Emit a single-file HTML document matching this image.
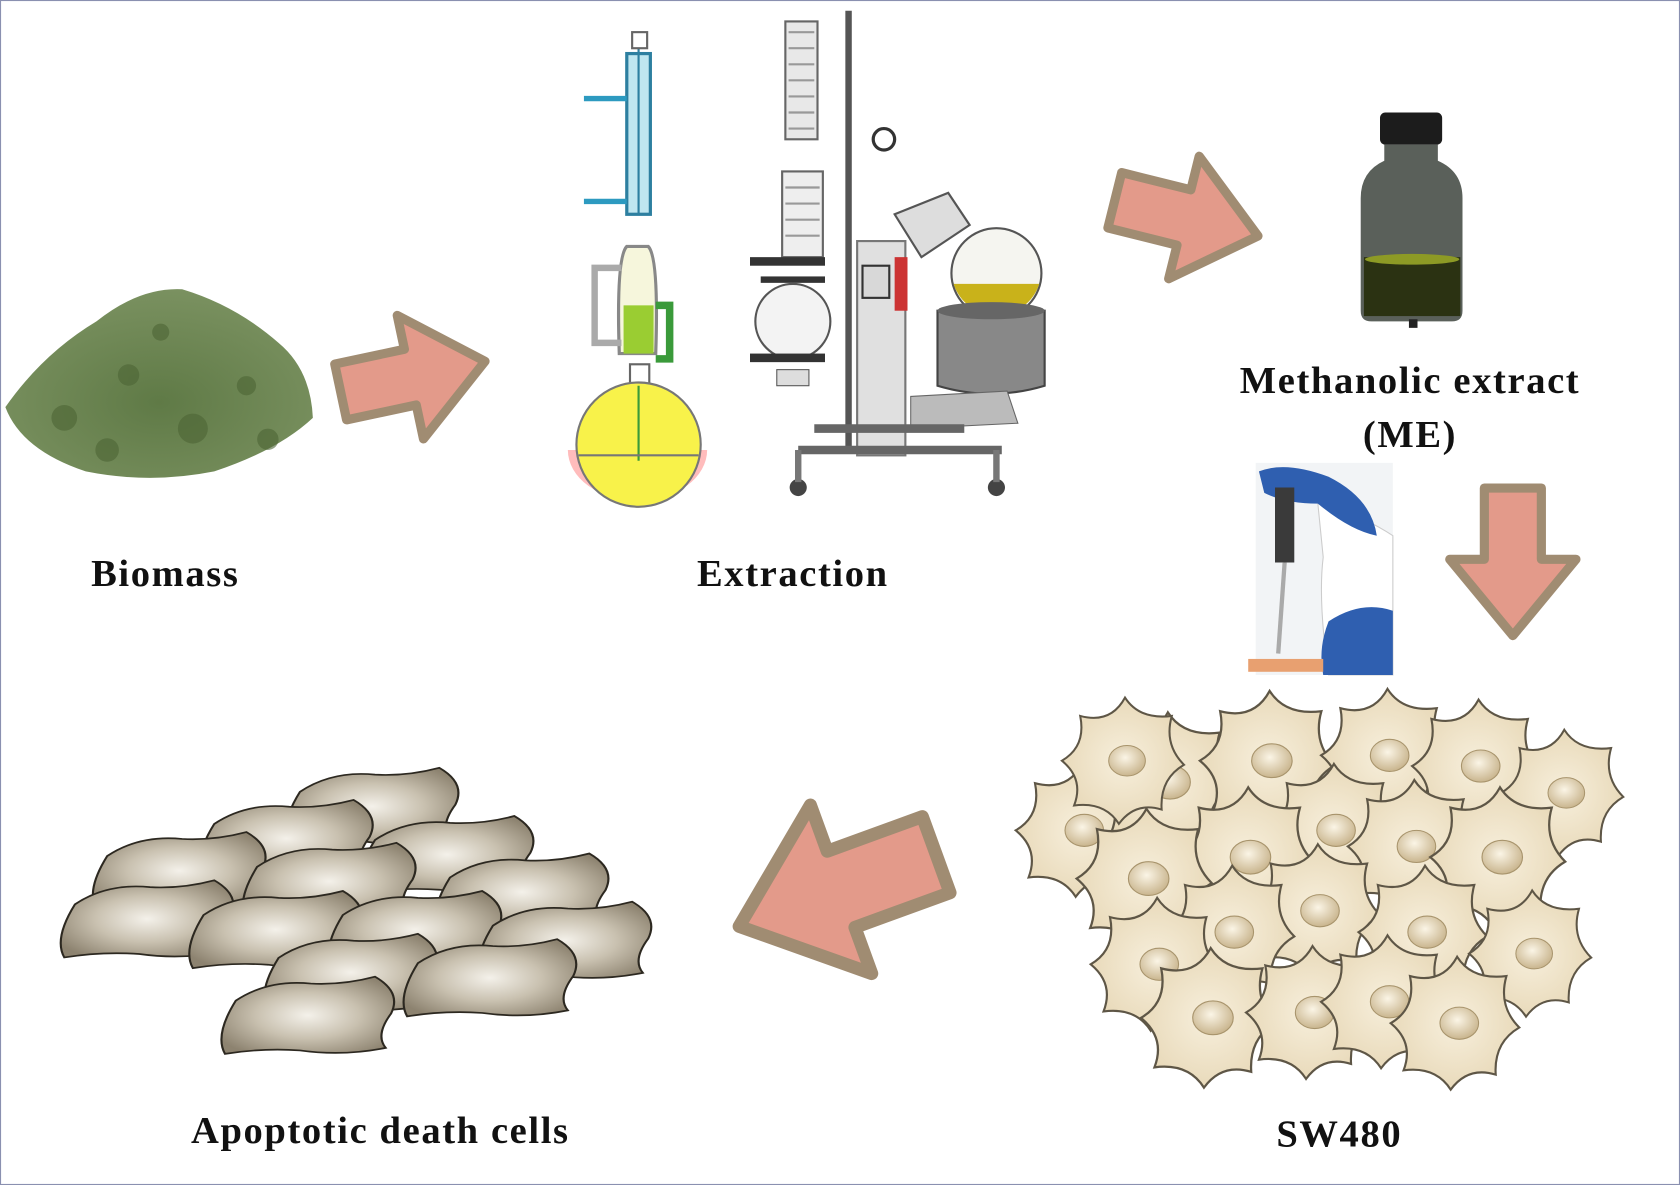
<!DOCTYPE html>
<html><head><meta charset="utf-8">
<style>
html,body{margin:0;padding:0;background:#fff;}
svg{display:block;}
text{font-family:"Liberation Serif",serif;fill:#111;font-weight:bold;letter-spacing:1.5px;}
</style></head>
<body>
<svg width="1680" height="1185" viewBox="0 0 1568 1106" preserveAspectRatio="none" xmlns="http://www.w3.org/2000/svg">
<defs>
  <path id="arr" d="M-70,-28 L0,-28 L0,-62 L75,0 L0,62 L0,28 L-70,28 Z" fill="#e39a8a" stroke="#a08c72" stroke-width="9" stroke-linejoin="round"/>
  <radialGradient id="cellg" cx="0.5" cy="0.5" r="0.6">
    <stop offset="0" stop-color="#f7efdc"/><stop offset="1" stop-color="#e6d6b4"/>
  </radialGradient>
  <radialGradient id="nuc" cx="0.45" cy="0.4" r="0.6">
    <stop offset="0" stop-color="#fbf5e6"/><stop offset="1" stop-color="#c9b58e"/>
  </radialGradient>
  <g id="cell">
    <path d="M0,-62 Q14,-40 46,-44 Q38,-16 58,4 Q34,18 36,48 Q10,40 -6,62 Q-20,40 -50,44 Q-40,18 -62,0 Q-38,-14 -44,-44 Q-14,-36 0,-62 Z" fill="url(#cellg)" stroke="#5e5646" stroke-width="2"/>
    <ellipse cx="2" cy="0" rx="18" ry="15" fill="url(#nuc)" stroke="#a8946c" stroke-width="1"/>
  </g>
  <radialGradient id="apg" cx="0.5" cy="0.5" r="0.6">
    <stop offset="0" stop-color="#f4f1ea"/><stop offset="0.5" stop-color="#c9c1b0"/><stop offset="1" stop-color="#8d8370"/>
  </radialGradient>
  <g id="apo">
    <path d="M-70,-20 Q-40,-45 0,-40 Q30,-38 60,-48 Q85,-30 75,-5 Q60,20 70,35 Q30,45 -10,38 Q-45,35 -80,42 Q-90,20 -70,-20 Z" fill="url(#apg)" stroke="#2c2820" stroke-width="2"/>
  </g>
  <radialGradient id="pile" cx="0.5" cy="0.6" r="0.6">
    <stop offset="0" stop-color="#5f7a46"/><stop offset="1" stop-color="#7a9160"/>
  </radialGradient>
</defs>
<rect x="0.5" y="0.5" width="1567" height="1105" fill="#fff" stroke="#8a90b0" stroke-width="1"/>

<!-- Biomass -->
<path d="M5,380 Q40,330 90,300 Q130,268 170,270 Q220,285 260,320 Q290,345 292,390 Q260,420 200,440 Q140,452 80,440 Q20,420 5,380 Z" fill="url(#pile)"/>
<g fill="#4d6535" opacity="0.6">
<circle cx="60" cy="390" r="12"/><circle cx="120" cy="350" r="10"/><circle cx="180" cy="400" r="14"/><circle cx="230" cy="360" r="9"/><circle cx="150" cy="310" r="8"/><circle cx="100" cy="420" r="11"/><circle cx="250" cy="410" r="10"/>
</g>
<text x="85" y="547" font-size="36">Biomass</text>

<use href="#arr" transform="translate(383,352) rotate(-12) scale(0.95)"/>

<!-- Soxhlet -->
<g>
<rect x="585" y="50" width="22" height="150" fill="#bfe6f0" stroke="#2d7fa0" stroke-width="3"/>
<line x1="596" y1="40" x2="596" y2="200" stroke="#2d7fa0" stroke-width="2"/>
<path d="M545,92 H585 M545,188 H585" stroke="#2d9ac0" stroke-width="5"/>
<rect x="590" y="30" width="14" height="15" fill="#fff" stroke="#666" stroke-width="2"/>
<path d="M585,230 Q575,240 578,330 H612 Q615,240 605,230 Z" fill="#f6f6dc" stroke="#888" stroke-width="3"/>
<rect x="582" y="285" width="28" height="45" fill="#9acd32"/>
<path d="M580,250 H555 V320 H580" fill="none" stroke="#aaa" stroke-width="6"/>
<path d="M612,285 H625 V335 H612" fill="none" stroke="#3a9a3a" stroke-width="7"/>
<rect x="588" y="340" width="18" height="22" fill="#fff" stroke="#666" stroke-width="2"/>
<path d="M530,420 A62,45 0 0 0 660,420 Z" fill="#ff4040" opacity="0.35"/>
<circle cx="596" cy="415" r="58" fill="#f8f24a" stroke="#777" stroke-width="2"/>
<line x1="596" y1="360" x2="596" y2="430" stroke="#3a9a3a" stroke-width="2"/>
<line x1="540" y1="425" x2="652" y2="425" stroke="#777" stroke-width="2"/>
</g>

<!-- Rotavap -->
<g>
<rect x="733" y="20" width="30" height="110" fill="#e8e8e8" stroke="#666" stroke-width="2"/>
<path d="M736,30 H760 M736,45 H760 M736,60 H760 M736,75 H760 M736,90 H760 M736,105 H760 M736,120 H760" stroke="#999" stroke-width="2"/>
<rect x="730" y="160" width="38" height="80" fill="#eee" stroke="#666" stroke-width="2"/>
<path d="M733,175 H765 M733,190 H765 M733,205 H765 M733,220 H765" stroke="#999" stroke-width="2"/>
<line x1="792" y1="10" x2="792" y2="420" stroke="#555" stroke-width="6"/>
<circle cx="825" cy="130" r="10" fill="#fff" stroke="#333" stroke-width="3"/>
<rect x="700" y="240" width="70" height="8" fill="#333"/>
<rect x="710" y="258" width="60" height="6" fill="#333"/>
<circle cx="740" cy="300" r="35" fill="#f3f3f3" stroke="#555" stroke-width="2"/>
<rect x="700" y="330" width="70" height="8" fill="#333"/>
<rect x="725" y="345" width="30" height="15" fill="#ddd" stroke="#555"/>
<rect x="800" y="225" width="45" height="200" fill="#e0e0e0" stroke="#777" stroke-width="2"/>
<rect x="805" y="248" width="25" height="30" fill="#d8d8d8" stroke="#333" stroke-width="2"/>
<rect x="835" y="240" width="12" height="50" fill="#cc3333"/>
<path d="M835,200 L885,180 L905,210 L860,240 Z" fill="#ddd" stroke="#555" stroke-width="2"/>
<circle cx="930" cy="255" r="42" fill="#f5f5f0" stroke="#555" stroke-width="2"/>
<path d="M890,265 A42,42 0 0 0 970,265 Z" fill="#c9b21a"/>
<path d="M875,290 H975 V360 Q925,375 875,360 Z" fill="#888" stroke="#444" stroke-width="2"/>
<ellipse cx="925" cy="290" rx="50" ry="8" fill="#666"/>
<path d="M850,370 L940,365 L950,395 L850,400 Z" fill="#bbb" stroke="#666"/>
<path d="M745,420 H935 M760,400 H900" stroke="#666" stroke-width="8"/>
<circle cx="745" cy="455" r="8" fill="#444"/><circle cx="930" cy="455" r="8" fill="#444"/>
<line x1="745" y1="420" x2="745" y2="450" stroke="#777" stroke-width="6"/><line x1="930" y1="420" x2="930" y2="450" stroke="#777" stroke-width="6"/>
</g>
<text x="740" y="547" font-size="36" text-anchor="middle">Extraction</text>

<use href="#arr" transform="translate(1105,203) rotate(14) scale(0.95)"/>

<!-- Bottle -->
<rect x="1288" y="105" width="58" height="30" rx="5" fill="#1c1c1c"/>
<path d="M1292,135 H1342 V150 Q1365,160 1365,185 V290 Q1365,300 1355,300 H1280 Q1270,300 1270,290 V185 Q1270,160 1292,150 Z" fill="#5a605a"/>
<rect x="1273" y="240" width="90" height="55" fill="#2b3212"/>
<ellipse cx="1318" cy="242" rx="44" ry="5" fill="#8d9a25"/>
<rect x="1315" y="298" width="8" height="8" fill="#222"/>
<text x="1316" y="367" font-size="36" text-anchor="middle">Methanolic extract</text>
<text x="1316" y="417" font-size="36" text-anchor="middle">(ME)</text>

<!-- Pipette -->
<rect x="1172" y="432" width="128" height="198" fill="#f2f4f6"/>
<path d="M1230,470 Q1270,480 1300,500 V630 H1240 Q1230,560 1235,520 Z" fill="#fff" stroke="#ccc"/>
<path d="M1175,440 Q1200,430 1240,445 Q1280,465 1285,500 Q1260,495 1230,470 Q1200,470 1180,460 Z" fill="#2f5fb0"/>
<rect x="1190" y="455" width="18" height="70" fill="#3a3a3a"/>
<line x1="1199" y1="525" x2="1193" y2="610" stroke="#aaa" stroke-width="4"/>
<path d="M1240,580 Q1270,560 1300,570 V630 H1235 Q1230,605 1240,580 Z" fill="#2f5fb0"/>
<rect x="1165" y="615" width="70" height="12" fill="#e8a070"/>

<use href="#arr" transform="translate(1412,522) rotate(90) scale(0.95)"/>

<!-- Cells -->
<g>
<use href="#cell" transform="translate(1010,775) scale(1.0)"/>
<use href="#cell" transform="translate(1090,730) scale(1.05)"/>
<use href="#cell" transform="translate(1185,710) scale(1.05)"/>
<use href="#cell" transform="translate(1295,705) scale(1.0)"/>
<use href="#cell" transform="translate(1380,715) scale(1.0)"/>
<use href="#cell" transform="translate(1460,740) scale(0.95)"/>
<use href="#cell" transform="translate(1050,710) scale(0.95)"/>
<use href="#cell" transform="translate(1245,775) scale(1.0)"/>
<use href="#cell" transform="translate(1165,800) scale(1.05)"/>
<use href="#cell" transform="translate(1070,820) scale(1.05)"/>
<use href="#cell" transform="translate(1320,790) scale(1.0)"/>
<use href="#cell" transform="translate(1400,800) scale(1.05)"/>
<use href="#cell" transform="translate(1230,850) scale(1.0)"/>
<use href="#cell" transform="translate(1150,870) scale(1.0)"/>
<use href="#cell" transform="translate(1080,900) scale(1.0)"/>
<use href="#cell" transform="translate(1330,870) scale(1.0)"/>
<use href="#cell" transform="translate(1430,890) scale(0.95)"/>
<use href="#cell" transform="translate(1130,950) scale(1.05)"/>
<use href="#cell" transform="translate(1225,945) scale(1.0)"/>
<use href="#cell" transform="translate(1295,935) scale(1.0)"/>
<use href="#cell" transform="translate(1360,955) scale(1.0)"/>
</g>
<text x="1250" y="1070" font-size="36" text-anchor="middle">SW480</text>

<use href="#arr" transform="translate(785,830) rotate(160) scale(1.35)"/>

<!-- Apoptotic -->
<g transform="translate(0,10)">
<use href="#apo" transform="translate(350,745) scale(1,0.8)"/>
<use href="#apo" transform="translate(270,775) scale(1,0.8)"/>
<use href="#apo" transform="translate(420,790) scale(1,0.8)"/>
<use href="#apo" transform="translate(170,805) scale(1,0.8)"/>
<use href="#apo" transform="translate(310,815) scale(1,0.8)"/>
<use href="#apo" transform="translate(490,825) scale(1,0.8)"/>
<use href="#apo" transform="translate(140,850) scale(1,0.8)"/>
<use href="#apo" transform="translate(260,860) scale(1,0.8)"/>
<use href="#apo" transform="translate(390,860) scale(1,0.8)"/>
<use href="#apo" transform="translate(530,870) scale(1,0.8)"/>
<use href="#apo" transform="translate(330,900) scale(1,0.8)"/>
<use href="#apo" transform="translate(460,905) scale(1,0.8)"/>
<use href="#apo" transform="translate(290,940) scale(1,0.8)"/>
</g>
<text x="355" y="1067" font-size="36" text-anchor="middle">Apoptotic death cells</text>
</svg>
</body></html>
